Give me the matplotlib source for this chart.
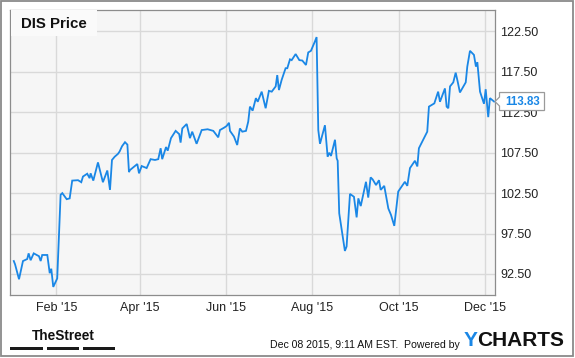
import matplotlib
matplotlib.use('Agg')
import matplotlib.pyplot as plt
import matplotlib.dates as mdates
from matplotlib.patches import Rectangle, Polygon
from matplotlib import font_manager
import pandas as pd

# DIS closing price (days counted from Jan 1 2015)
days = [1, 1.9, 4.7, 7.5, 10.5, 11.5, 12.9, 15.1, 18.8, 20.0, 21.1, 24.7, 26.4, 27.5,
        28.9, 31.7, 34.1, 35.3, 38.4, 40.5, 42.3, 46.4, 48.7, 49.9, 52.9, 54.6, 55.3,
        57.2, 60.5, 64.0, 67.1, 69.0, 70.4, 72.3, 74.6, 75.8, 77.5, 79.6, 81.3, 82.4,
        83.1, 88.3, 89.5, 91.4, 94.9, 97.7, 100.8, 103.1, 104.8, 105.9, 108.6, 109.8,
        112.1, 115.4, 117.9, 118.9, 120.1, 123.2, 125.5, 127.1, 130.2, 133.8, 138.0,
        142.0, 145.5, 146.7, 149.7, 151.4, 153.1, 153.8, 156.6, 158.9, 160.8, 162.5,
        165.1, 166.7, 167.9, 169.8, 172.1, 173.4, 176.2, 179.0, 181.3, 183.3, 186.1,
        187.2, 188.4, 190.3, 193.1, 194.3, 196.2, 197.4, 200.2, 202.8, 204.9, 207.5,
        209.1, 211.0, 213.8, 215.0, 216.2, 217.4, 220.9, 222.8, 224.0, 225.2, 228.0,
        229.2, 229.9, 231.0, 235.0, 236.2, 238.6, 241.4, 243.3, 244.5, 246.2, 249.9,
        251.5, 253.2, 254.6, 257.0, 259.1, 260.3, 262.8, 265.7, 267.6, 269.9, 272.7,
        277.4, 279.1, 281.0, 284.5, 286.2, 287.3, 293.2, 294.4, 298.2, 300.9, 302.2,
        305.7, 306.9, 308.1, 309.3, 311.6, 313.3, 314.7, 316.3, 320.4, 321.5, 323.4,
        326.2, 327.6, 328.6, 330.5, 333.3, 334.5, 336.3, 337.5, 340.4]
prices = [94.1, 93.7, 91.85, 94.1, 94.35, 95.05, 94.2, 95.05, 94.7, 94.1, 94.85, 94.85,
          92.6, 93.15, 90.9, 91.95, 102.3, 102.5, 101.75, 101.85, 104.05, 104.1, 103.85,
          104.55, 104.9, 104.35, 104.95, 104.05, 106.3, 103.85, 105.3, 102.9, 106.6,
          107.0, 107.35, 107.65, 108.3, 108.8, 108.5, 105.1,
          105.35, 106.1, 104.95, 105.85, 105.6, 106.7, 106.6, 106.7, 108.05, 106.7,
          108.2, 107.75, 109.3, 110.2, 109.8, 108.75, 110.5, 111.05, 109.3, 110.1,
          108.6, 110.3, 110.4, 110.2, 109.4, 110.3, 110.6, 110.8, 111.2, 110.2, 109.5,
          108.45, 110.5, 110.1, 110.2, 111.35, 113.2, 112.7, 114.25, 113.8, 115.05,
          113.0, 115.15, 115.05, 115.7, 117.1, 115.25, 116.5, 117.95, 117.95, 119.05,
          118.95, 119.7, 118.95, 118.9, 118.35, 119.9, 120.1, 121.25, 121.8, 110.3,
          108.6, 110.9, 107.0, 107.5, 107.1, 109.1, 106.8, 106.5, 100.0, 95.35, 95.9,
          102.4, 102.05, 99.5, 101.85, 100.9, 103.9, 101.95, 104.45, 104.2, 103.5,
          104.1, 102.9, 103.4, 100.6, 99.8, 98.45, 102.7, 103.9, 103.4, 105.6, 106.5,
          105.8, 108.05, 110.1, 113.2, 113.6, 115.05, 113.8, 115.45, 113.2, 113.0,
          115.7, 116.2, 117.4, 116.3, 114.95, 116.2, 118.15, 120.1, 119.6, 118.15,
          118.7, 115.05, 113.55, 115.35, 111.9, 114.25, 113.83]

y_ticks = [92.5, 97.5, 102.5, 107.5, 112.5, 117.5, 122.5]
x_ticks = ['2015-02-01', '2015-04-01', '2015-06-01', '2015-08-01', '2015-10-01', '2015-12-01']
last_label = '113.83'

dates = pd.Timestamp('2015-01-01') + pd.to_timedelta(days, unit='D')

plt.rcParams['font.family'] = ['Liberation Sans', 'DejaVu Sans']
names = {f.name for f in font_manager.fontManager.ttflist}
narrow = 'Liberation Sans Narrow' if 'Liberation Sans Narrow' in names else 'Liberation Sans'

W, H = 575, 358
blue = '#1a87e6'


def fx(x):
    return x / W


def fy(y):
    return 1 - y / H


fig = plt.figure(figsize=(W / 100, H / 100), dpi=100)
fig.patch.set_facecolor('white')
ax = fig.add_axes([fx(10), fy(295), (495 - 10) / W, (295 - 10) / H])
ax.set_facecolor('#f6f6f6')

ax.plot(dates, prices, color=blue, lw=1.3, solid_joinstyle='miter', zorder=3)

ax.set_xlim(pd.Timestamp('2014-12-30 08:00'), pd.Timestamp('2015-12-08 02:00'))
ax.set_ylim(89.9, 125.15)

ax.set_yticks(y_ticks)
ax.set_yticklabels(['%.2f' % v for v in y_ticks])
ax.yaxis.tick_right()
ax.set_xticks(pd.to_datetime(x_ticks))
ax.xaxis.set_major_formatter(mdates.DateFormatter("%b '%y"))
ax.tick_params(length=0, labelsize=9, colors='#222222')
ax.tick_params(axis='y', pad=4)
ax.tick_params(axis='x', pad=5)
ax.grid(True, color='#d9d9d9', lw=1.0)
ax.set_axisbelow(True)
for s in ax.spines.values():
    s.set_color('#8c8c8c')
    s.set_linewidth(0.9)

# title box
fig.patches.append(Rectangle((fx(10.5), fy(36)), (96.7 - 10.5) / W, 26 / H,
                             transform=fig.transFigure, facecolor='#fafafa',
                             edgecolor='none', zorder=2))
fig.text(fx(21), fy(23.5), 'DIS Price', fontsize=10.8, fontweight='bold',
         color='#111111', va='center', ha='left', zorder=3)

# last value label
fig.canvas.draw()
yv = ax.transData.transform((mdates.date2num(dates[-1]), prices[-1]))[1]
yv = H - yv
tip = 495
box = Polygon([(fx(tip), fy(yv)), (fx(499.5), fy(yv - 4.5)), (fx(499.5), fy(yv - 9)),
               (fx(544.5), fy(yv - 9)), (fx(544.5), fy(yv + 9)), (fx(499.5), fy(yv + 9)),
               (fx(499.5), fy(yv + 4.5))], closed=True, transform=fig.transFigure,
              facecolor='white', edgecolor='#9a9a9a', lw=0.9, zorder=5)
fig.patches.append(box)
fig.text(fx(522.5), fy(yv), last_label, fontsize=8.3, fontweight='bold', color=blue,
         ha='center', va='center', zorder=6)

# outer frame
fig.patches.append(Rectangle((fx(1), fy(356)), 572 / W, 355 / H, transform=fig.transFigure,
                             facecolor='none', edgecolor='#8a8a8a', lw=1.3, zorder=4))

# footer
fig.text(fx(63), fy(336), 'TheStreet', family=narrow, fontsize=9.8, fontweight='bold',
         color='#111111', ha='center', va='center')
for x0, x1 in [(10, 42.7), (46.7, 79), (83.3, 115)]:
    fig.patches.append(Rectangle((fx(x0), fy(350.3)), (x1 - x0) / W, 3.6 / H,
                                 transform=fig.transFigure, facecolor='#1a1a1a',
                                 edgecolor='none'))
fig.text(fx(460), fy(345), 'Dec 08 2015, 9:11 AM EST.  Powered by', fontsize=7.6,
         color='#111111', ha='right', va='center')
ty = fig.text(fx(464), fy(341), 'Y', fontsize=15, fontweight='bold', color=blue,
              ha='left', va='center')
fig.canvas.draw()
bb = ty.get_window_extent()
fig.text(bb.x1 / W - 0.5 / W, fy(341), 'CHARTS', fontsize=15, fontweight='bold',
         color='#111111', ha='left', va='center')

fig.savefig('out.png', dpi=100)
